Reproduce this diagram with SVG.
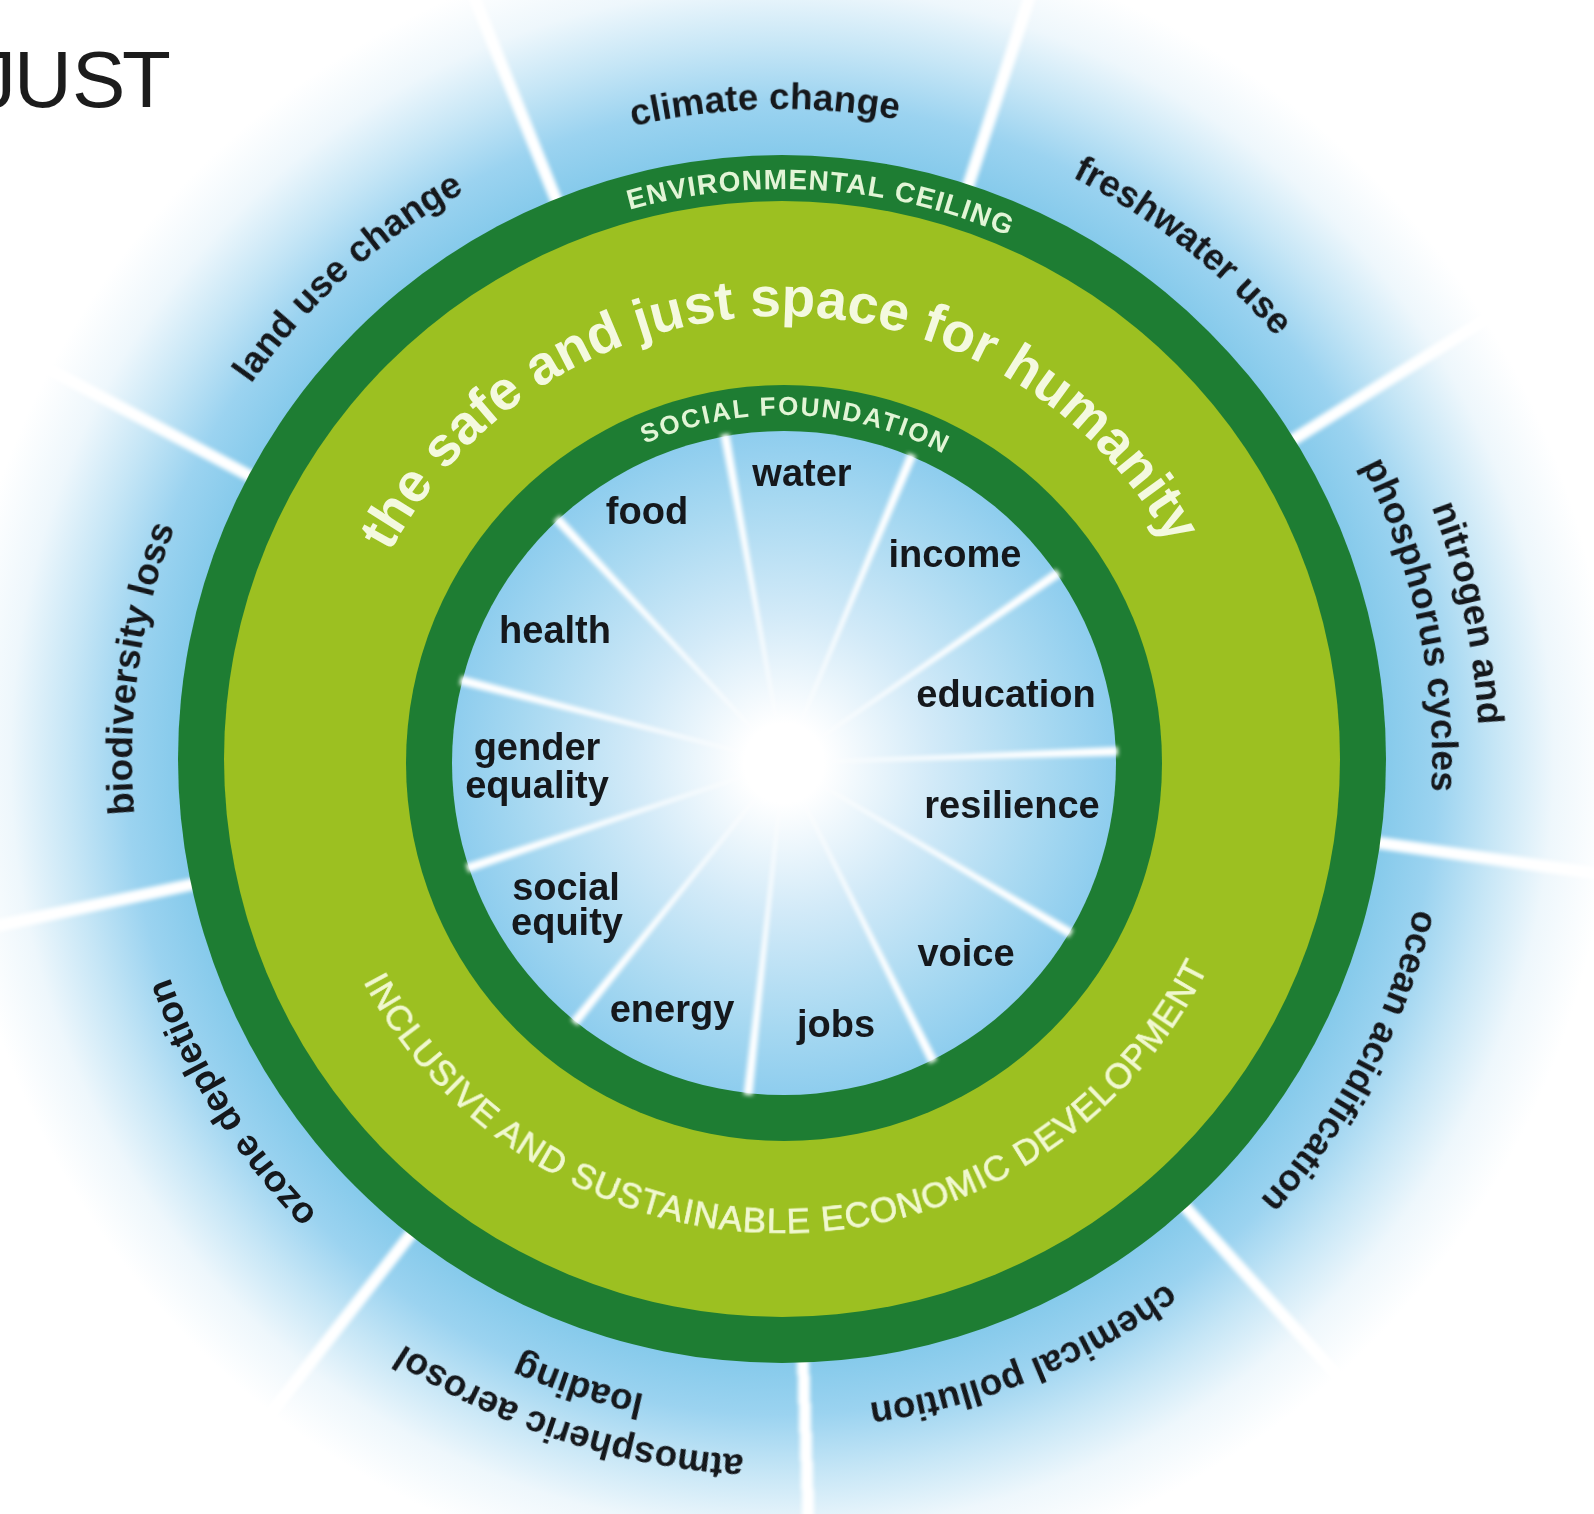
<svg xmlns="http://www.w3.org/2000/svg" width="1594" height="1514" viewBox="0 0 1594 1514">
  <style>
    .lbl { font-family: "Liberation Sans", Arial, sans-serif; font-weight: bold; fill: #15181c; }
    .outer { font-size: 37px; }
    .inner { font-size: 38px; text-anchor: middle; }
    .ring { font-family: "Liberation Sans", Arial, sans-serif; font-weight: bold; }
    .spokeOut { stroke: #ffffff; stroke-width: 12; }
    .spokeIn { fill: #ffffff; }
  </style>
  <defs>
    <radialGradient id="gOuter" gradientUnits="userSpaceOnUse" cx="782" cy="759" r="830">
      <stop offset="0" stop-color="#86caeb"/>
      <stop offset="0.727" stop-color="#86caeb"/>
      <stop offset="0.79" stop-color="#9bd3f0"/>
      <stop offset="0.86" stop-color="#c6e6f6"/>
      <stop offset="0.93" stop-color="#eef7fc"/>
      <stop offset="1" stop-color="#ffffff"/>
    </radialGradient>
    <radialGradient id="gInner" gradientUnits="userSpaceOnUse" cx="784" cy="763" r="332">
      <stop offset="0" stop-color="#ffffff"/>
      <stop offset="0.12" stop-color="#ffffff"/>
      <stop offset="0.45" stop-color="#d2eaf8"/>
      <stop offset="0.8" stop-color="#a6d8f1"/>
      <stop offset="1" stop-color="#8ecdee"/>
    </radialGradient>
    <filter id="soft" x="-20%" y="-20%" width="140%" height="140%">
      <feGaussianBlur stdDeviation="2"/>
    </filter>
    <path id="c650" d="M 782 1409 A 650 650 0 1 1 782 109 A 650 650 0 1 1 782 1409"/>
    <path id="c697" d="M 782 1456 A 697 697 0 1 1 782 62 A 697 697 0 1 1 782 1456"/>
    <path id="c570" d="M 782 1329 A 570 570 0 1 1 782 189 A 570 570 0 1 1 782 1329"/>
    <path id="c443" d="M 782 1202 A 443 443 0 1 1 782 316 A 443 443 0 1 1 782 1202"/>
    <path id="c348" d="M 784 1111 A 348 348 0 1 1 784 415 A 348 348 0 1 1 784 1111"/>
    <path id="ccw474" d="M 782 285 A 474 474 0 1 0 782 1233 A 474 474 0 1 0 782 285"/>
  </defs>

  <rect width="1594" height="1514" fill="#ffffff"/>

  <g id="title">
    <text x="-24 14 72 122" y="107" font-family="Liberation Sans, Arial, sans-serif" font-size="80" fill="#1c1c1c">JUST</text>
  </g>

  <g id="outer-sectors">
    <circle cx="782" cy="759" r="830" fill="url(#gOuter)"/>
  </g>

  <g id="connectors">
    <g id="outer-spokes" transform="translate(782 759)" filter="url(#soft)">
      <line class="spokeOut" x1="598" y1="0" x2="830" y2="0" transform="rotate(8)"/>
      <line class="spokeOut" x1="598" y1="0" x2="830" y2="0" transform="rotate(48)"/>
      <line class="spokeOut" x1="598" y1="0" x2="830" y2="0" transform="rotate(88)"/>
      <line class="spokeOut" x1="598" y1="0" x2="830" y2="0" transform="rotate(128)"/>
      <line class="spokeOut" x1="598" y1="0" x2="830" y2="0" transform="rotate(168)"/>
      <line class="spokeOut" x1="598" y1="0" x2="830" y2="0" transform="rotate(208)"/>
      <line class="spokeOut" x1="598" y1="0" x2="830" y2="0" transform="rotate(248)"/>
      <line class="spokeOut" x1="598" y1="0" x2="830" y2="0" transform="rotate(288)"/>
      <line class="spokeOut" x1="598" y1="0" x2="830" y2="0" transform="rotate(328)"/>
    </g>
  </g>

  <g id="rings">
    <circle id="environmental-ceiling" cx="782" cy="759" r="604" fill="#1e7d33"/>
    <circle id="safe-space" cx="782" cy="759" r="558" fill="#9cc021"/>
    <circle id="social-foundation" cx="784" cy="763" r="378" fill="#1e7d33"/>
    <circle id="inner-disc" cx="784" cy="763" r="332" fill="url(#gInner)"/>
  </g>

  <g id="inner-spokes" transform="translate(784 763)" filter="url(#soft)">
    <polygon class="spokeIn" points="0,0 334,-4.5 334,4.5" transform="rotate(-2)"/>
    <polygon class="spokeIn" points="0,0 334,-4.5 334,4.5" transform="rotate(30.727)"/>
    <polygon class="spokeIn" points="0,0 334,-4.5 334,4.5" transform="rotate(63.455)"/>
    <polygon class="spokeIn" points="0,0 334,-4.5 334,4.5" transform="rotate(96.182)"/>
    <polygon class="spokeIn" points="0,0 334,-4.5 334,4.5" transform="rotate(128.909)"/>
    <polygon class="spokeIn" points="0,0 334,-4.5 334,4.5" transform="rotate(161.636)"/>
    <polygon class="spokeIn" points="0,0 334,-4.5 334,4.5" transform="rotate(194.364)"/>
    <polygon class="spokeIn" points="0,0 334,-4.5 334,4.5" transform="rotate(227.091)"/>
    <polygon class="spokeIn" points="0,0 334,-4.5 334,4.5" transform="rotate(259.818)"/>
    <polygon class="spokeIn" points="0,0 334,-4.5 334,4.5" transform="rotate(292.545)"/>
    <polygon class="spokeIn" points="0,0 334,-4.5 334,4.5" transform="rotate(325.273)"/>
  </g>

  <g id="ring-labels">
    <g transform="rotate(4 782 759)">
      <text class="ring" font-size="28" letter-spacing="1.2" fill="#e2f5d6" text-anchor="middle"><textPath href="#c570" startOffset="50%">ENVIRONMENTAL CEILING</textPath></text>
    </g>
    <g transform="rotate(-0.5 782 759)">
      <text class="ring" font-size="55" fill="#f4f9df" text-anchor="middle"><textPath href="#c443" startOffset="50%">the safe and just space for humanity</textPath></text>
    </g>
    <g transform="rotate(2 784 763)">
      <text class="ring" font-size="26" letter-spacing="2" fill="#e2f5d6" text-anchor="middle"><textPath href="#c348" startOffset="50%">SOCIAL FOUNDATION</textPath></text>
    </g>
    <g transform="rotate(-1 782 759)">
      <text font-family="Liberation Sans, Arial, sans-serif" font-size="35" letter-spacing="1.1" fill="#f0f8cf" stroke="#f0f8cf" stroke-width="0.7" text-anchor="middle"><textPath href="#ccw474" startOffset="50%">INCLUSIVE AND SUSTAINABLE ECONOMIC DEVELOPMENT</textPath></text>
    </g>
  </g>

  <g id="planetary-boundaries">
    <g id="climate-change" transform="rotate(-1.5 782 759)"><text class="lbl outer" text-anchor="middle"><textPath href="#c650" startOffset="50%">climate change</textPath></text></g>
    <g id="freshwater-use" transform="rotate(38 782 759)"><text class="lbl outer" text-anchor="middle"><textPath href="#c650" startOffset="50%">freshwater use</textPath></text></g>
    <g id="nitrogen-phosphorus" transform="rotate(78 782 759)">
      <text class="lbl outer" text-anchor="middle"><textPath href="#c697" startOffset="50%">nitrogen and</textPath></text>
      <text class="lbl outer" text-anchor="middle"><textPath href="#c650" startOffset="50%">phosphorus cycles</textPath></text>
    </g>
    <g id="ocean-acidification" transform="rotate(118 782 759)"><text class="lbl outer" text-anchor="middle"><textPath href="#c650" startOffset="50%">ocean acidification</textPath></text></g>
    <g id="chemical-pollution" transform="rotate(158 782 759)"><text class="lbl outer" text-anchor="middle"><textPath href="#c650" startOffset="50%">chemical pollution</textPath></text></g>
    <g id="atmospheric-aerosol" transform="rotate(198 782 759)">
      <text class="lbl outer" text-anchor="middle"><textPath href="#c697" startOffset="50%">atmospheric aerosol</textPath></text>
      <text class="lbl outer" text-anchor="middle"><textPath href="#c650" startOffset="50%">loading</textPath></text>
    </g>
    <g id="ozone-depletion" transform="rotate(238 782 759)"><text class="lbl outer" text-anchor="middle"><textPath href="#c650" startOffset="50%">ozone depletion</textPath></text></g>
    <g id="biodiversity-loss" transform="rotate(278 782 759)"><text class="lbl outer" text-anchor="middle"><textPath href="#c650" startOffset="50%">biodiversity loss</textPath></text></g>
    <g id="land-use-change" transform="rotate(318 782 759)"><text class="lbl outer" text-anchor="middle"><textPath href="#c650" startOffset="50%">land use change</textPath></text></g>
  </g>

  <g id="social-dimensions">
    <g id="water"><text class="lbl inner" x="802" y="486">water</text></g>
    <g id="food"><text class="lbl inner" x="647" y="524">food</text></g>
    <g id="income"><text class="lbl inner" x="955" y="567">income</text></g>
    <g id="health"><text class="lbl inner" x="555" y="643">health</text></g>
    <g id="education"><text class="lbl inner" x="1006" y="707">education</text></g>
    <g id="gender-equality"><text class="lbl inner" x="537" y="760">gender</text><text class="lbl inner" x="537" y="798">equality</text></g>
    <g id="resilience"><text class="lbl inner" x="1012" y="818">resilience</text></g>
    <g id="social-equity"><text class="lbl inner" x="566" y="900">social</text><text class="lbl inner" x="567" y="935">equity</text></g>
    <g id="voice"><text class="lbl inner" x="966" y="966">voice</text></g>
    <g id="energy"><text class="lbl inner" x="672" y="1022">energy</text></g>
    <g id="jobs"><text class="lbl inner" x="836" y="1037">jobs</text></g>
  </g>
</svg>
